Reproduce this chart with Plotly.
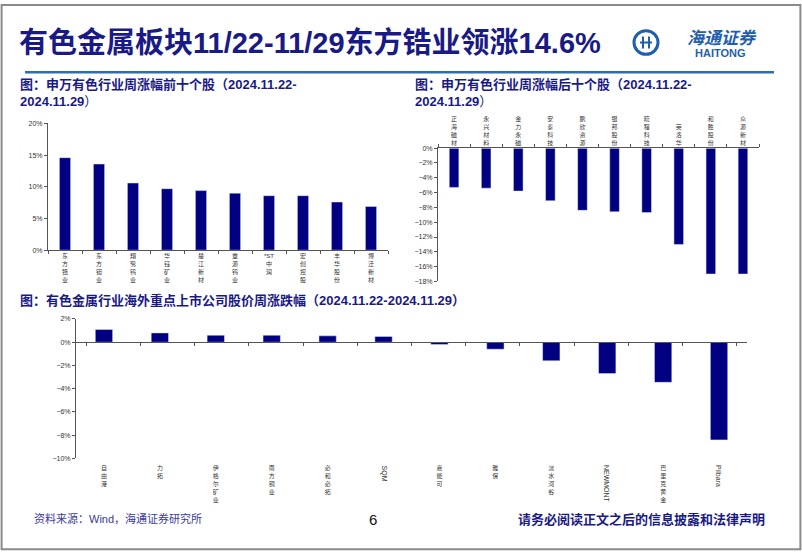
import plotly.graph_objects as go

W, H = 802, 554
NAVY = "#000080"
TEXT_NAVY = "#1a1a86"
LOGO_BLUE = "#1f5fae"
FONT = "Arial, 'Noto Sans CJK SC', sans-serif"

# 申万有色行业周涨幅前十个股 (%)
top_names = ["东方锆业", "东方钽业", "翔鹭钨业", "华钰矿业", "楚江新材",
             "章源钨业", "*ST中润", "宏创控股", "丰华股份", "博迁新材"]
top_values = [14.6, 13.6, 10.6, 9.7, 9.4, 9.0, 8.6, 8.6, 7.6, 6.9]

# 申万有色行业周涨幅后十个股 (%)
low_names = ["正海磁材", "永兴材料", "金力永磁", "安泰科技", "鹏欣资源",
             "银邦股份", "晓程科技", "英洛华", "和胜股份", "众源新材"]
low_values = [-5.3, -5.4, -5.8, -7.1, -8.4, -8.6, -8.7, -13.0, -17.0, -17.0]

# 海外重点上市公司股价周涨跌幅 (%)
abroad_names = ["自由港", "力拓", "伊格尔矿业", "南方铜业", "必和必拓", "SQM",
                "嘉能可", "雅保", "淡水河谷", "NEWMONT", "巴里克黄金", "Pilbara"]
abroad_values = [1.1, 0.8, 0.6, 0.6, 0.55, 0.5, -0.2, -0.6, -1.6, -2.7, -3.45, -8.4]


def px_x(x):
    return x / W


def px_y(y):
    return 1 - y / H


def stack(name):
    # vertical writing for chinese labels, latin ones are drawn rotated
    if name.isascii():
        return ""
    if name.startswith("*ST"):
        return "*ST<br>" + "<br>".join(name[3:])
    return "<br>".join(name)


fig = go.Figure()
fig.add_trace(go.Bar(x=top_names, y=top_values, width=0.33, marker_color=NAVY,
                     xaxis="x", yaxis="y"))
fig.add_trace(go.Bar(x=low_names, y=low_values, width=0.30, marker_color=NAVY,
                     xaxis="x2", yaxis="y2"))
fig.add_trace(go.Bar(x=abroad_names, y=abroad_values, width=0.31, marker_color=NAVY,
                     xaxis="x3", yaxis="y3"))
# carrier for the zero-line category axis of the bottom chart
fig.add_trace(go.Scatter(x=abroad_names, y=abroad_values, mode="markers",
                         marker=dict(opacity=0), xaxis="x4", yaxis="y3",
                         hoverinfo="skip"))

axis_common = dict(showline=True, linecolor="#555", linewidth=1, showgrid=False,
                   zeroline=False, ticks="outside", ticklen=3, tickcolor="#555",
                   tickfont=dict(size=7, color="#333"))
cat_common = dict(type="category", showline=True, linecolor="#555", linewidth=1,
                  showgrid=False, ticks="outside", tickson="boundaries", ticklen=3,
                  tickcolor="#555", tickfont=dict(size=6, color="#333"))

y3_dom = [px_y(460.3), px_y(319)]
zero_pos = y3_dom[0] + (0 - (-10)) / 12 * (y3_dom[1] - y3_dom[0])

fig.update_layout(
    width=W, height=H,
    margin=dict(l=0, r=0, t=0, b=0),
    paper_bgcolor="white", plot_bgcolor="white",
    showlegend=False,
    font=dict(family=FONT),
    xaxis=dict(domain=[px_x(48), px_x(388)], anchor="y",
               tickvals=top_names, ticktext=[stack(n) for n in top_names], **cat_common),
    yaxis=dict(domain=[px_y(249.3), px_y(121)], anchor="x", range=[0, 20], dtick=5,
               ticksuffix="%", **axis_common),
    xaxis2=dict(domain=[px_x(438), px_x(759)], anchor="y2", side="top",
                tickvals=low_names, ticktext=[stack(n) for n in low_names], **cat_common),
    yaxis2=dict(domain=[px_y(281), px_y(146)], anchor="x2", range=[-18, 0], dtick=2,
                ticksuffix="%", **axis_common),
    xaxis3=dict(domain=[px_x(76), px_x(747)], anchor="y3", type="category",
                showline=False, showgrid=False, ticks="", ticklabelstandoff=5,
                tickvals=abroad_names, ticktext=[stack(n) for n in abroad_names],
                tickfont=dict(size=6, color="#333")),
    xaxis4=dict(overlaying="x3", anchor="free", position=zero_pos, type="category",
                categoryarray=abroad_names, categoryorder="array",
                showline=True, linecolor="#555", linewidth=1, showgrid=False,
                ticks="outside", tickson="boundaries", ticklen=3, tickcolor="#555",
                showticklabels=False),
    yaxis3=dict(domain=y3_dom, anchor="x3", range=[-10, 2], dtick=2,
                ticksuffix="%", **axis_common),
)

ann = []
ann.append(dict(text="<b>有色金属板块11/22-11/29东方锆业领涨14.6%</b>", x=px_x(17), y=px_y(40),
                xanchor="left", yanchor="middle",
                font=dict(size=29, color=TEXT_NAVY, family=FONT)))
ann.append(dict(text="<b>图：申万有色行业周涨幅前十个股（2024.11.22-</b><br><b>2024.11.29</b>）",
                x=px_x(18), y=px_y(72), xanchor="left", yanchor="top", align="left",
                font=dict(size=13, color=TEXT_NAVY)))
ann.append(dict(text="<b>图：申万有色行业周涨幅后十个股（2024.11.22-</b><br><b>2024.11.29</b>）",
                x=px_x(413), y=px_y(72), xanchor="left", yanchor="top", align="left",
                font=dict(size=13, color=TEXT_NAVY)))
ann.append(dict(text="<b>图：有色金属行业海外重点上市公司股价周涨跌幅（2024.11.22-2024.11.29）</b>",
                x=px_x(18), y=px_y(300), xanchor="left", yanchor="middle",
                font=dict(size=13, color=TEXT_NAVY)))
ann.append(dict(text="资料来源：Wind，海通证券研究所", x=px_x(32), y=px_y(521),
                xanchor="left", yanchor="middle", font=dict(size=11, color="#3a3aa0")))
ann.append(dict(text="6", x=px_x(373), y=px_y(522), xanchor="center", yanchor="middle",
                font=dict(size=15, color="#111")))
ann.append(dict(text="<b>请务必阅读正文之后的信息披露和法律声明</b>", x=px_x(767), y=px_y(522),
                xanchor="right", yanchor="middle", font=dict(size=13, color=TEXT_NAVY)))
# logo
ann.append(dict(text="<i><b>海通证券</b></i>", x=px_x(722), y=px_y(35), xanchor="center",
                yanchor="middle", font=dict(size=17, color=LOGO_BLUE)))
ann.append(dict(text="<b>HAITONG</b>", x=px_x(720), y=px_y(50), xanchor="center",
                yanchor="middle", font=dict(size=11, color=LOGO_BLUE)))
# rotated latin labels of the bottom chart
for n in abroad_names:
    if n.isascii():
        ann.append(dict(text=n, x=n, xref="x3", y=px_y(465), yanchor="top",
                        xanchor="center", textangle=90,
                        font=dict(size=7, color="#333")))
for a in ann:
    a.setdefault("xref", "paper")
    a.setdefault("yref", "paper")
    a["showarrow"] = False
fig.update_layout(annotations=ann)

shapes = [
    dict(type="rect", xref="paper", yref="paper", x0=0.002, x1=0.998, y0=0.003, y1=0.998,
         line=dict(color="#8a8a8a", width=2)),
    dict(type="line", xref="paper", yref="paper", x0=px_x(25), x1=px_x(774),
         y0=px_y(69), y1=px_y(69), line=dict(color="#2e6db4", width=2.5)),
    dict(type="circle", xref="paper", yref="paper", x0=px_x(634), x1=px_x(658),
         y0=px_y(51), y1=px_y(27), line=dict(color=LOGO_BLUE, width=3)),
    dict(type="line", xref="paper", yref="paper", x0=px_x(640), x1=px_x(652),
         y0=px_y(39), y1=px_y(39), line=dict(color=LOGO_BLUE, width=2)),
    dict(type="line", xref="paper", yref="paper", x0=px_x(643), x1=px_x(643),
         y0=px_y(33), y1=px_y(45), line=dict(color=LOGO_BLUE, width=2)),
    dict(type="line", xref="paper", yref="paper", x0=px_x(649), x1=px_x(649),
         y0=px_y(33), y1=px_y(45), line=dict(color=LOGO_BLUE, width=2)),
]
fig.update_layout(shapes=shapes)

# drop the browser's default page margin so the figure fills the window
fig.write_html("out.html", config={"displayModeBar": False},
               post_script="document.body.style.margin='0';")
